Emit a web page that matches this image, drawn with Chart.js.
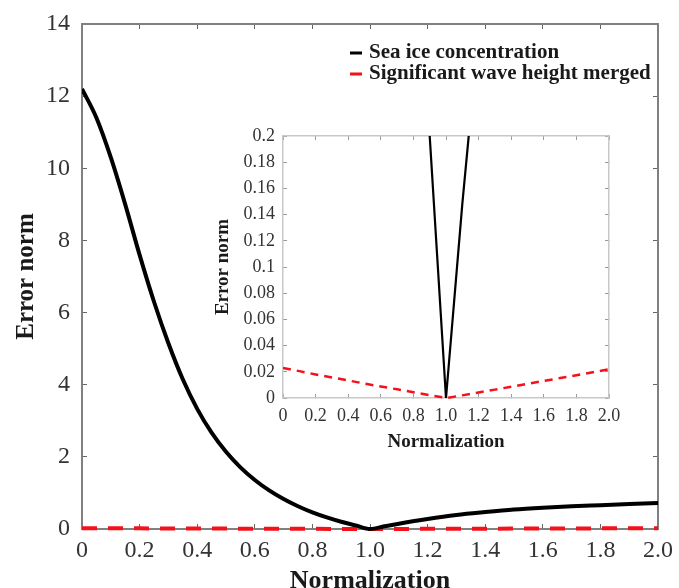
<!DOCTYPE html>
<html>
<head>
<meta charset="utf-8">
<script src="https://cdn.jsdelivr.net/npm/chart.js@4.4.0/dist/chart.umd.min.js"></script>
<style>
  body { margin: 0; background: #fff; }
  #wrap { position: relative; width: 679px; height: 588px; }
  #main { position: absolute; left: 0; top: 0; }
  #inset { position: absolute; left: 190px; top: 120px; }
</style>
</head>
<body>
<div id="wrap">
  <canvas id="main" width="679" height="588"></canvas>
  <canvas id="inset" width="430" height="340"></canvas>
</div>
<script>
// error norm against the normalization factor
const iceX   = [0, 0.05, 0.1, 0.15, 0.2, 0.25, 0.3, 0.35, 0.4, 0.45, 0.5, 0.55, 0.6, 0.65, 0.7, 0.75, 0.8, 0.85, 0.9, 0.95, 1.0, 1.05, 1.1, 1.2, 1.3, 1.4, 1.5, 1.6, 1.7, 1.8, 1.9, 2.0];
const iceErr = [12.2, 11.4, 10.3, 9.0, 7.6, 6.3, 5.15, 4.15, 3.33, 2.67, 2.14, 1.71, 1.36, 1.07, 0.83, 0.63, 0.46, 0.32, 0.2, 0.1, 0, 0.074, 0.148, 0.28, 0.39, 0.47, 0.54, 0.59, 0.63, 0.66, 0.69, 0.72];

const waveX   = [0, 0.1, 0.2, 0.3, 0.4, 0.5, 0.6, 0.7, 0.8, 0.9, 1.0, 1.1, 1.2, 1.3, 1.4, 1.5, 1.6, 1.7, 1.8, 1.9, 2.0];
const waveErr = [0.023, 0.0205, 0.018, 0.0157, 0.0134, 0.011, 0.0088, 0.0066, 0.0044, 0.0022, 0, 0.002, 0.0042, 0.0064, 0.0086, 0.0108, 0.013, 0.0152, 0.0174, 0.0196, 0.022];

const seriesNames = ['Sea ice concentration', 'Significant wave height merged'];

const xTickVals      = [0, 0.2, 0.4, 0.6, 0.8, 1.0, 1.2, 1.4, 1.6, 1.8, 2.0];
const mainYTickVals  = [0, 2, 4, 6, 8, 10, 12, 14];
const insetYTickVals = [0, 0.02, 0.04, 0.06, 0.08, 0.1, 0.12, 0.14, 0.16, 0.18, 0.2];

const serif = "'Liberation Serif', 'Times New Roman', serif";

const pts = (xs, ys) => xs.map((x, i) => ({ x: x, y: ys[i] }));
const fmtX = v => v === 0 ? '0' : v.toFixed(1);
const fmtSmall = v => v === 0 ? '0' : String(+v.toFixed(2));

// fixed axis box sizes so the plot areas land where the figure has them
function sized(prop, val) {
    return s => {
        s[prop] = val;
        s.paddingLeft = s.paddingRight = s.paddingTop = s.paddingBottom = 0;
    };
}
function useTicks(vals) {
    return s => { s.ticks = vals.map(v => ({ value: v })); };
}

function axis(o) {
    return {
        type: 'linear',
        position: o.position,
        min: o.min,
        max: o.max,
        afterBuildTicks: useTicks(o.vals),
        afterFit: sized(o.prop, o.size),
        border: { display: true, color: o.borderColor, width: o.borderWidth },
        // negative tick length -> tick marks point into the plot
        grid: { drawOnChartArea: false, drawTicks: true, tickLength: -o.tick, color: o.tickColor, lineWidth: 1 },
        ticks: {
            display: !!o.fmt,
            callback: o.fmt || (() => ''),
            autoSkip: false,
            maxRotation: 0,
            padding: o.pad || 0,
            color: '#333',
            font: { family: serif, size: o.fontSize || 12 }
        },
        title: o.title ? {
            display: true,
            text: o.title,
            color: '#1a1a1a',
            font: { family: serif, size: o.titleSize, weight: 'bold' },
            padding: o.titlePad
        } : { display: false }
    };
}

// legend drawn inside the plot area, top right, like the figure
const boxLegend = {
    id: 'boxLegend',
    afterDraw(chart, args, opts) {
        const ctx = chart.ctx;
        ctx.save();
        ctx.font = 'bold 21px ' + serif;
        ctx.textBaseline = 'middle';
        chart.data.datasets.forEach((ds, i) => {
            const y = opts.y + i * opts.rowGap;
            ctx.fillStyle = ds.borderColor;
            ctx.fillRect(opts.x, y - 1.5, 12, 3);
            ctx.fillStyle = '#1a1a1a';
            ctx.fillText(ds.label, opts.x + 19, y);
        });
        ctx.restore();
    }
};

const mainAxisCol = '#808080';

new Chart(document.getElementById('main'), {
    type: 'line',
    data: {
        datasets: [
            {
                label: seriesNames[0],
                data: pts(iceX, iceErr),
                borderColor: '#000000',
                borderWidth: 4,
                pointRadius: 0,
                cubicInterpolationMode: 'monotone',
                clip: { left: 0, top: 0, right: 0, bottom: 4 }
            },
            {
                label: seriesNames[1],
                data: pts(waveX, waveErr),
                borderColor: '#f5101a',
                borderWidth: 4,
                borderDash: [15, 11],
                pointRadius: 0,
                clip: { left: 0, top: 0, right: 0, bottom: 4 }
            }
        ]
    },
    options: {
        responsive: false,
        animation: false,
        events: [],
        layout: { padding: { left: 0, top: 24, right: 21, bottom: 0 } },
        plugins: {
            legend: { display: false },
            tooltip: { enabled: false },
            boxLegend: { x: 350, y: 53, rowGap: 21 }
        },
        scales: {
            x: axis({ position: 'bottom', min: 0, max: 2, vals: xTickVals, prop: 'height', size: 59,
                      borderColor: mainAxisCol, borderWidth: 2, tick: 5, tickColor: '#666',
                      fmt: fmtX, pad: 12, fontSize: 24,
                      title: 'Normalization', titleSize: 26, titlePad: { top: 0, bottom: -9 } }),
            y: axis({ position: 'left', min: 0, max: 14, vals: mainYTickVals, prop: 'width', size: 82,
                      borderColor: mainAxisCol, borderWidth: 2, tick: 5, tickColor: '#666',
                      fmt: v => String(v), pad: 17, fontSize: 24,
                      title: 'Error norm', titleSize: 25, titlePad: { top: 12, bottom: 0 } }),
            x2: axis({ position: 'top', min: 0, max: 2, vals: xTickVals, prop: 'height', size: 0,
                       borderColor: mainAxisCol, borderWidth: 2, tick: 5, tickColor: '#666' }),
            y2: axis({ position: 'right', min: 0, max: 14, vals: mainYTickVals, prop: 'width', size: 0,
                       borderColor: mainAxisCol, borderWidth: 2, tick: 5, tickColor: '#666' })
        }
    },
    plugins: [boxLegend]
});

const insetAxisCol = '#c8c8c8';

new Chart(document.getElementById('inset'), {
    type: 'line',
    data: {
        datasets: [
            {
                label: seriesNames[0],
                data: pts(iceX, iceErr),
                borderColor: '#000000',
                borderWidth: 2.2,
                pointRadius: 0,
                tension: 0,
                clip: { left: 0, top: 0, right: 0, bottom: 3 }
            },
            {
                label: seriesNames[1],
                data: pts(waveX, waveErr),
                borderColor: '#f5101a',
                borderWidth: 2.5,
                borderDash: [8, 6],
                pointRadius: 0,
                tension: 0,
                clip: { left: 0, top: 0, right: 0, bottom: 3 }
            }
        ]
    },
    options: {
        responsive: false,
        animation: false,
        events: [],
        layout: { padding: { left: 0, top: 16, right: 11, bottom: 0 } },
        plugins: { legend: { display: false }, tooltip: { enabled: false } },
        scales: {
            x: axis({ position: 'bottom', min: 0, max: 2, vals: xTickVals, prop: 'height', size: 62,
                      borderColor: insetAxisCol, borderWidth: 1.5, tick: 4, tickColor: '#999',
                      fmt: fmtX, pad: 11, fontSize: 18,
                      title: 'Normalization', titleSize: 19, titlePad: { top: 0, bottom: 7 } }),
            y: axis({ position: 'left', min: 0, max: 0.2, vals: insetYTickVals, prop: 'width', size: 93,
                      borderColor: insetAxisCol, borderWidth: 1.5, tick: 4, tickColor: '#999',
                      fmt: fmtSmall, pad: 12, fontSize: 18,
                      title: 'Error norm', titleSize: 19, titlePad: { top: 22, bottom: 0 } }),
            x2: axis({ position: 'top', min: 0, max: 2, vals: xTickVals, prop: 'height', size: 0,
                       borderColor: insetAxisCol, borderWidth: 1.5, tick: 4, tickColor: '#999' }),
            y2: axis({ position: 'right', min: 0, max: 0.2, vals: insetYTickVals, prop: 'width', size: 0,
                       borderColor: insetAxisCol, borderWidth: 1.5, tick: 4, tickColor: '#999' })
        }
    }
});
</script>
</body>
</html>
